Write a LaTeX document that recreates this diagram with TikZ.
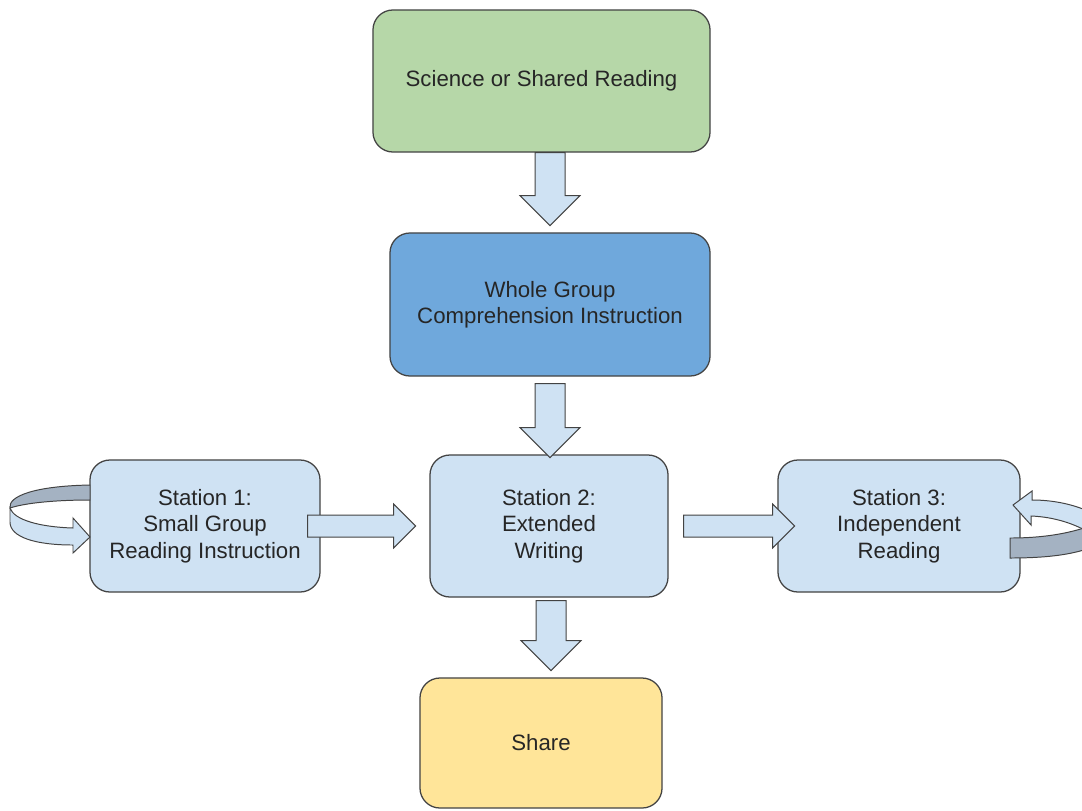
\documentclass[tikz,border=0pt]{standalone}
\usepackage{fontspec}
\setmainfont{Liberation Sans}
\usetikzlibrary{calc}

\definecolor{scigreen}{HTML}{B6D7A8}
\definecolor{wholeblue}{HTML}{6FA8DC}
\definecolor{stationblue}{HTML}{CFE2F3}
\definecolor{shareyellow}{HTML}{FFE599}
\definecolor{ringdark}{RGB}{164,178,194}
\definecolor{edgegray}{HTML}{434343}

% fat block arrows: anchor, offset, shaft length
\newcommand{\fatdown}[3]{%
  \draw[fat] ($(#1)+(#2)+(-15,0)$) -- ++(0,#3) -- ++(-15,0) -- ++(30,30)
    -- ++(30,-30) -- ++(-15,0) -- ++(0,-#3) -- cycle;}
\newcommand{\fatright}[3]{%
  \draw[fat] ($(#1)+(#2)+(0,-11)$) -- ++(#3,0) -- ++(0,-11) -- ++(22,22)
    -- ++(-22,22) -- ++(0,-11) -- ++(-#3,0) -- cycle;}

\begin{document}
\begin{tikzpicture}[
  x=0.025cm, y=-0.025cm,
  stage/.style={draw=edgegray,line width=0.9pt,rounded corners=0.5cm,
    align=center,text=black!85,font=\fontsize{15.8}{18.8}\selectfont},
  fat/.style={draw=edgegray,line width=0.7pt,fill=stationblue,line join=miter},
  ring/.style={draw=edgegray,line width=0.7pt}
]
\useasboundingbox (0,0) rectangle (1082,810);

\node[stage,fill=scigreen,minimum width=8.425cm,minimum height=3.55cm]
  (sci) at (541.5,81) {Science or Shared Reading};
\node[stage,fill=wholeblue,minimum width=8cm,minimum height=3.575cm]
  (whole) at (550,304.5) {Whole Group\\Comprehension Instruction};
\node[stage,fill=stationblue,minimum width=5.95cm,minimum height=3.55cm]
  (st2) at (549,526) {Station 2:\\Extended\\Writing};
\node[stage,fill=stationblue,minimum width=5.75cm,minimum height=3.3cm]
  (st1) at (205,526) {Station 1:\\Small Group\\Reading Instruction};
\node[stage,fill=stationblue,minimum width=6.05cm,minimum height=3.3cm]
  (st3) at (899,526) {Station 3:\\Independent\\Reading};
\node[stage,fill=shareyellow,minimum width=6.05cm,minimum height=3.25cm]
  (share) at (541,743) {Share};

\fatdown{sci.south}{8.5,0}{43}
\fatdown{whole.south}{0,7}{44}
\fatdown{st2.south}{2,3}{40}
\fatright{st1.east}{-13,0}{86}
\fatright{st2.east}{15,0}{89}

% loop back into station 1
\filldraw[ring,fill=ringdark] (90,485) .. controls (35,486) and (8,496) .. (10,508)
  .. controls (25,503) and (55,500) .. (90,500) -- cycle;
\filldraw[ring,fill=stationblue] (10,508) .. controls (14,520) and (40,527) .. (73,528)
  -- (73,518) -- (90,537) -- (73,553) -- (73,545)
  .. controls (35,545) and (10,537) .. (10,522) -- cycle;

% loop back into station 3
\begin{scope}
\clip (0,0) rectangle (1082,810);
\filldraw[ring,fill=stationblue] (1013,505) -- (1032,491) -- (1032,500)
  .. controls (1055,500) and (1075,505) .. (1090,512) -- (1090,533)
  .. controls (1075,524) and (1055,517) .. (1031,516) -- (1031,525) -- cycle;
\filldraw[ring,fill=ringdark] (1010,538) .. controls (1045,538) and (1070,533) .. (1090,526)
  -- (1090,548) .. controls (1070,555) and (1045,558) .. (1010,558) -- cycle;
\end{scope}
\end{tikzpicture}
\end{document}
